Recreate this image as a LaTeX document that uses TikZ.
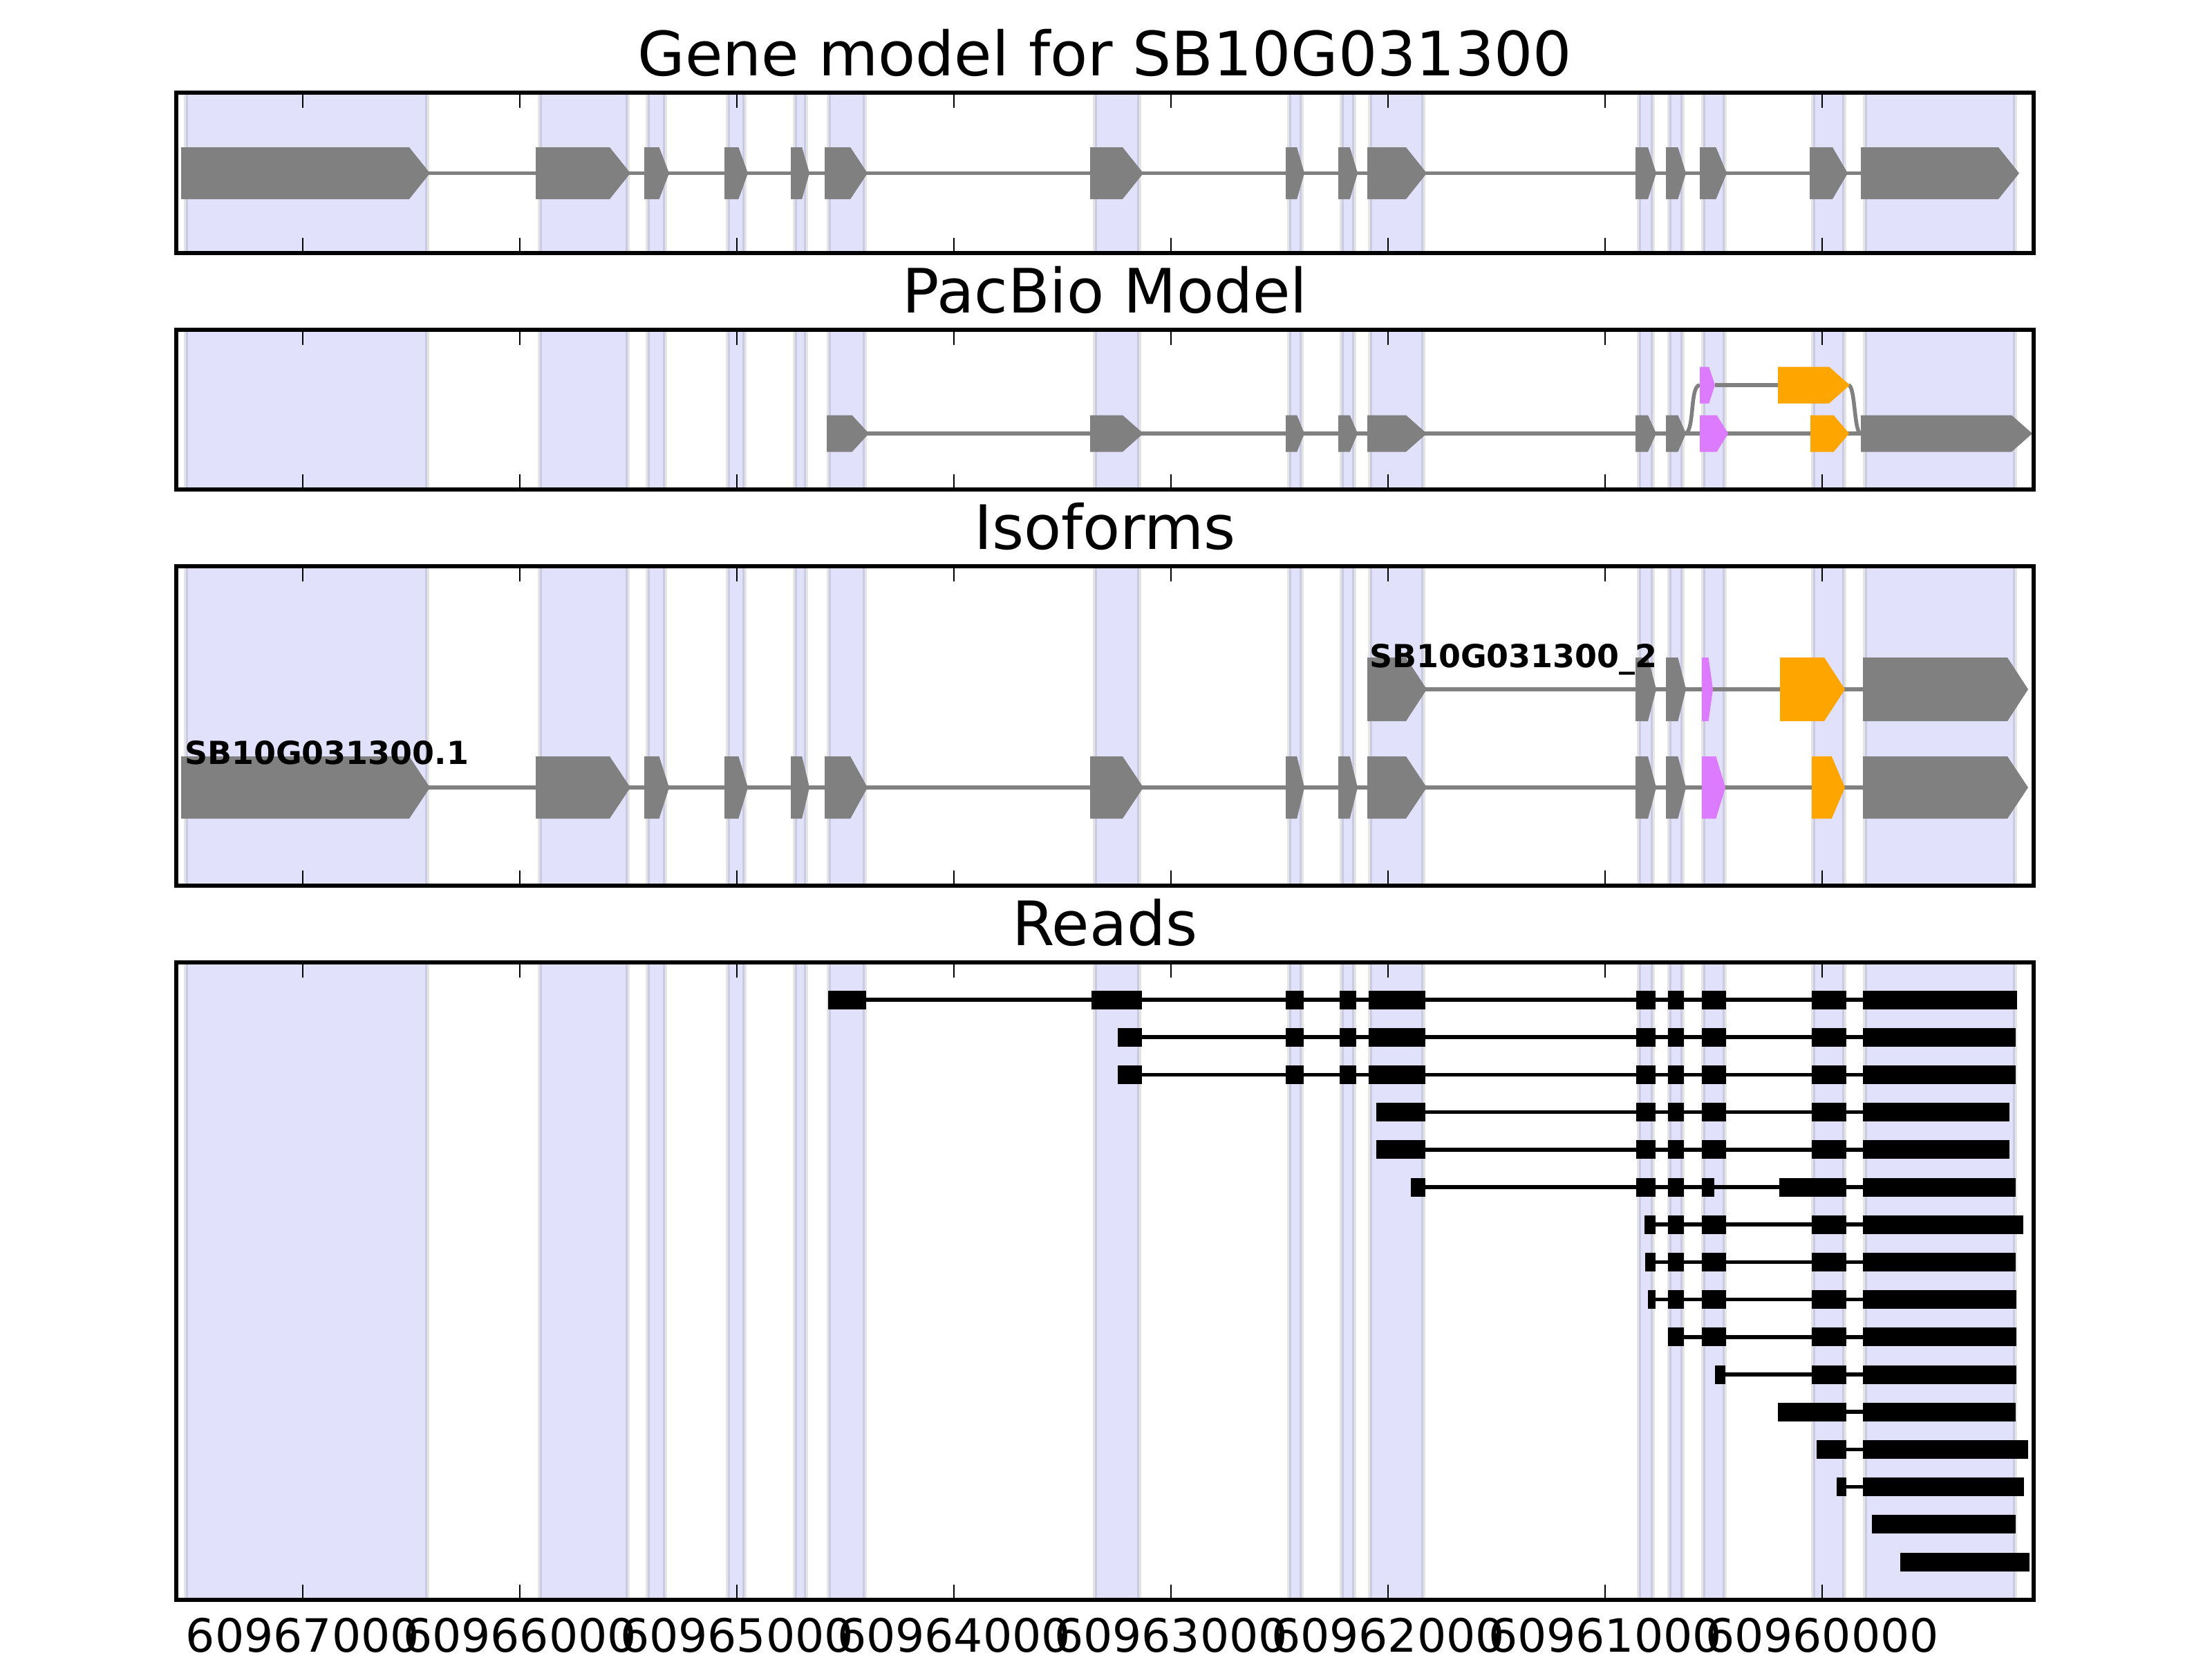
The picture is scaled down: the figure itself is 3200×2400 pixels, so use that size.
\documentclass[tikz,border=0pt]{standalone}
\usepackage{fontspec}
\setmainfont{DejaVu Sans}
\usepackage{xcolor}
\usepackage{tikz}

\definecolor{exongray}{HTML}{808080}
\definecolor{altpink}{HTML}{DD7BFF}
\definecolor{altorange}{HTML}{FFA500}
\definecolor{bandblue}{HTML}{E1E1FC}

% exon arrow: start, end, centre y, half height, colour
\newcommand{\exon}[5]{%
  \pgfmathsetmacro{\exhead}{min(30,0.4*(#2-#1))}%
  \fill[#5] (#1,#3-#4) -- ({#2-\exhead},#3-#4) -- (#2,#3) -- ({#2-\exhead},#3+#4) -- (#1,#3+#4) -- cycle;}

% read row: centre y, line start, line end, blocks
\newcommand{\readrow}[4]{%
  \draw[readline] (#2,#1) -- (#3,#1);
  \foreach \a/\b in {#4} {\fill (\a,#1-13.5) rectangle (\b,#1+13.5);}}

% shaded exon bands of one panel: top, bottom
\newcommand{\panelbands}[2]{%
  \foreach \a/\b in {269/618, 781/908, 937/962, 1053/1077, 1150/1166, 1199/1251, 1584/1648, 1865/1883,
                     1941/1959, 1982/2059, 2371/2391, 2415/2434, 2464/2495, 2623/2668, 2698/2915}
    {\draw[band] (\a,#1) rectangle (\b,#2);}}

% frame and ticks of one panel: top, bottom
\newcommand{\panelframe}[2]{%
  \foreach \t in {438,752,...,2636} {\draw[tick] (\t,#1) -- ++(0,22); \draw[tick] (\t,#2) -- ++(0,-22);}
  \draw[frame] (255,#1) rectangle (2942,#2);}

\begin{document}
\begin{tikzpicture}[x=0.0635mm, y=-0.0635mm,
    band/.style={fill=bandblue, draw=black, draw opacity=0.1, line width=1pt},
    intron/.style={draw=exongray, line width=1pt},
    readline/.style={draw=black, line width=1pt},
    frame/.style={draw=black, line width=1pt},
    tick/.style={draw=black, line width=0.5pt},
    title/.style={anchor=base, inner sep=0pt, font=\fontsize{16}{19}\selectfont},
    ticklabel/.style={anchor=base, inner sep=0pt, font=\fontsize{12}{14}\selectfont},
    isolabel/.style={anchor=base west, inner sep=0pt, font=\fontsize{8.3}{10}\selectfont\bfseries}]

    \useasboundingbox[fill=white] (0,0) rectangle (3200,2400);

    % Gene model
    \panelbands{134}{366}
    \draw[intron] (262,250.5) -- (2692,250.5);
    \foreach \a/\b in {262/622, 775/912, 932/968, 1048/1082, 1144/1171, 1193/1255, 1577/1654, 1860/1887,
                       1936/1964, 1978/2064, 2366/2396, 2410/2439, 2459/2498, 2618/2673, 2692/2921}
      {\exon{\a}{\b}{250.5}{37.5}{exongray}}
    \panelframe{134}{366}
    \node[title] (genetitle) at (1598.5,109) {Gene model for SB10G031300};

    % PacBio model
    \panelbands{477}{708}
    \draw[intron] (1200,627) -- (2692,627);
    \draw[intron] (2481,557) -- (2572,557);
    \draw[intron] (2437,627) .. controls (2452,627) and (2444,557) .. (2459,557);
    \draw[intron] (2674,557) .. controls (2684,557) and (2682,627) .. (2692,627);
    \foreach \a/\b in {1196/1257, 1577/1654, 1860/1887, 1936/1964, 1978/2064, 2366/2396, 2410/2439, 2692/2940}
      {\exon{\a}{\b}{627}{26.5}{exongray}}
    \exon{2459}{2500}{627}{26.5}{altpink}
    \exon{2619}{2675}{627}{26.5}{altorange}
    \exon{2459}{2481}{557}{26.5}{altpink}
    \exon{2572}{2676}{557}{26.5}{altorange}
    \panelframe{477}{708}
    \node[title] (pacbiotitle) at (1598.5,452) {PacBio Model};

    % Isoforms
    \panelbands{819}{1281}
    \draw[intron] (262,1139) -- (2695,1139);
    \foreach \a/\b in {262/622, 775/912, 932/968, 1048/1082, 1144/1171, 1193/1255, 1577/1654, 1860/1887,
                       1936/1964, 1978/2064, 2366/2396, 2410/2439, 2695/2934}
      {\exon{\a}{\b}{1139}{45}{exongray}}
    \exon{2462}{2496}{1139}{45}{altpink}
    \exon{2621}{2669}{1139}{45}{altorange}
    \draw[intron] (1978,997) -- (2695,997);
    \foreach \a/\b in {1978/2064, 2366/2396, 2410/2439, 2695/2934}
      {\exon{\a}{\b}{997}{46}{exongray}}
    \exon{2462}{2478}{997}{46}{altpink}
    \exon{2575}{2669}{997}{46}{altorange}
    \node[isolabel] (isoone) at (266,1105) {SB10G031300.1};
    \node[isolabel] (isotwo) at (1980,965) {SB10G031300\_2};
    \panelframe{819}{1281}
    \node[title] (isotitle) at (1598.5,794) {Isoforms};

    % Reads
    \panelbands{1392}{2314}
    \readrow{1446}{1198}{2918}{1198/1253, 1579/1652, 1860/1886, 1938/1962, 1980/2062, 2367/2395, 2413/2436, 2462/2497, 2621/2671, 2695/2918}
    \readrow{1500.2}{1617}{2916}{1617/1652, 1860/1886, 1938/1962, 1980/2062, 2367/2395, 2413/2436, 2462/2497, 2621/2671, 2695/2916}
    \readrow{1554.4}{1617}{2916}{1617/1652, 1860/1886, 1938/1962, 1980/2062, 2367/2395, 2413/2436, 2462/2497, 2621/2671, 2695/2916}
    \readrow{1608.6}{1991}{2907}{1991/2062, 2367/2395, 2413/2436, 2462/2497, 2621/2671, 2695/2907}
    \readrow{1662.8}{1991}{2907}{1991/2062, 2367/2395, 2413/2436, 2462/2497, 2621/2671, 2695/2907}
    \readrow{1717}{2041}{2916}{2041/2062, 2367/2395, 2413/2436, 2462/2480, 2574/2671, 2695/2916}
    \readrow{1771.2}{2379}{2927}{2379/2395, 2413/2436, 2462/2497, 2621/2671, 2695/2927}
    \readrow{1825.4}{2380}{2916}{2380/2395, 2413/2436, 2462/2497, 2621/2671, 2695/2916}
    \readrow{1879.6}{2384}{2917}{2384/2395, 2413/2436, 2462/2497, 2621/2671, 2695/2917}
    \readrow{1933.8}{2413}{2917}{2413/2436, 2462/2497, 2621/2671, 2695/2917}
    \readrow{1988}{2481}{2917}{2481/2496, 2621/2671, 2695/2917}
    \readrow{2042.2}{2572}{2916}{2572/2671, 2695/2916}
    \readrow{2096.4}{2628}{2934}{2628/2671, 2695/2934}
    \readrow{2150.6}{2657}{2928}{2657/2671, 2695/2928}
    \readrow{2204.8}{2708}{2916}{2708/2916}
    \readrow{2259}{2749}{2936}{2749/2936}
    \panelframe{1392}{2314}
    \node[title] (readstitle) at (1598.5,1367) {Reads};

    % Axis labels
    \foreach \t/\lab in {438/60967000, 752/60966000, 1066/60965000, 1380/60964000,
                         1694/60963000, 2008/60962000, 2322/60961000, 2636/60960000}
      {\node[ticklabel] (tick\lab) at (\t,2389) {\lab};}

\end{tikzpicture}
\end{document}
